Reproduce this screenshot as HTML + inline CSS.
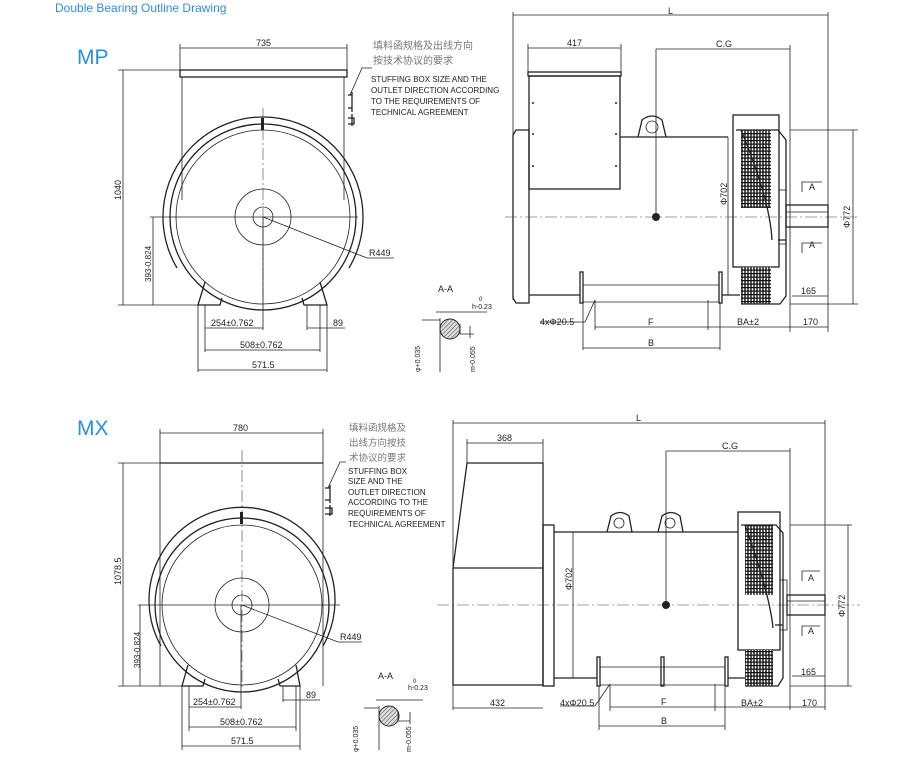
<!DOCTYPE html>
<html><head><meta charset="utf-8"><style>
body{margin:0;background:#fff}
svg{display:block}
text{font-family:"Liberation Sans","Noto Sans CJK SC",sans-serif;font-size:9px;fill:#222}
.t{fill:#2b8fd8}
.l{stroke:#222;stroke-width:0.8;fill:none}
.k{stroke:#222;stroke-width:1.3;fill:none}
.c{stroke:#444;stroke-width:0.6;fill:none;stroke-dasharray:12 3 2 3}
.g{fill:#777}
</style></head><body>
<svg width="901" height="777" viewBox="0 0 901 777" xmlns="http://www.w3.org/2000/svg">
<defs>
<pattern id="grid" width="3" height="3.5" patternUnits="userSpaceOnUse"><rect width="3" height="3.5" fill="#fff"/><path d="M0 0.5H3M1 0V3.5" stroke="#111" stroke-width="1.4"/></pattern>
<pattern id="hat" width="3" height="3" patternUnits="userSpaceOnUse" patternTransform="rotate(45)"><rect width="3" height="3" fill="#ddd"/><path d="M0 0V3" stroke="#222" stroke-width="0.8"/></pattern>
</defs>
<text x="55" y="12" class="t" style="font-size:12px">Double Bearing Outline Drawing</text>
<text x="77" y="64" class="t" style="font-size:21px">MP</text>
<text x="77" y="435" class="t" style="font-size:21px">MX</text>

<!-- ===== MP FRONT ===== -->
<g>
<path class="l" d="M180 44V70M347 44V70M180 48H347"/><text x="256" y="46">735</text>
<rect class="k" x="180" y="70" width="167" height="7"/>
<path class="l" d="M182 77V200M344 77V200"/>
<path class="l" d="M118 70H180M118 305H198M123 70V305M150 217H358M153 217V305"/>
<path class="c" d="M263 108V310"/>
<text transform="translate(121,200) rotate(-90)">1040</text>
<text transform="translate(151,282) rotate(-90)" style="font-size:8px">393-0.824</text>
<path class="k" d="M177 268A100 100 0 1 1 349 268"/>
<circle class="k" cx="263" cy="217" r="93"/>
<circle class="l" cx="263" cy="217" r="87"/>
<circle class="l" cx="263" cy="217" r="28"/>
<circle class="l" cx="263" cy="217" r="10"/>
<rect x="261" y="118" width="3" height="12" fill="#222"/>
<path class="l" d="M263 217L367 258H394"/><text x="369" y="256">R449</text>
<path class="k" d="M205 282L198 305H220L222 298M320 282L327 305H304L302 298"/>
<path class="l" d="M198 305V372M205 305V352M327 305V372M320 305V352M307 305V330"/>
<path class="l" d="M205 328H263M263 217V330M307 328H345M205 350H320M198 370H327"/>
<text x="211" y="326">254±0.762</text><text x="333" y="326">89</text>
<text x="240" y="348">508±0.762</text><text x="252" y="368">571.5</text>
<path class="k" d="M348 95H352V108H348M352 92V112M348 118H354V124H348M352 114V126"/>
<path class="l" d="M350 95L362 68H372"/>
<text x="373" y="49" class="g" style="font-size:10px">填料函规格及出线方向</text>
<text x="373" y="64" class="g" style="font-size:10px">按技术协议的要求</text>
<text x="371" y="82" style="font-size:8px">STUFFING BOX SIZE AND THE</text>
<text x="371" y="93" style="font-size:8px">OUTLET DIRECTION ACCORDING</text>
<text x="371" y="104" style="font-size:8px">TO THE REQUIREMENTS OF</text>
<text x="371" y="115" style="font-size:8px">TECHNICAL AGREEMENT</text>
<text x="438" y="292">A-A</text>
<circle cx="450" cy="329" r="10" fill="url(#hat)" stroke="#222"/>
<path class="l" d="M440 318V372M436 312H487M422 320H440M460 324V334H474M470 326V338"/>
<text x="472" y="309" style="font-size:7px">h-0.23</text><text x="479" y="301" style="font-size:6px">0</text>
<text transform="translate(420,372) rotate(-90)" style="font-size:7px">φ+0.035</text>
<text transform="translate(475,372) rotate(-90)" style="font-size:7px">m-0.055</text>
</g>

<!-- ===== MP SIDE ===== -->
<g>
<path class="l" d="M513 15H828M513 12V300M828 12V332"/><text x="668" y="14">L</text>
<path class="l" d="M528 44V72M621 44V72M528 48H621"/><text x="567" y="46">417</text>
<rect class="k" x="528" y="72" width="93" height="4"/>
<rect class="k" x="529" y="76" width="91" height="113"/>
<g fill="#222"><circle cx="533" cy="103" r="1"/><circle cx="533" cy="134" r="1"/><circle cx="533" cy="166" r="1"/><circle cx="616" cy="103" r="1"/><circle cx="616" cy="134" r="1"/><circle cx="616" cy="166" r="1"/></g>
<path class="k" d="M516 130H529V303H516L513 298V135Z"/>
<path class="k" d="M620 137H728M529 295H580M722 295H740"/>
<path class="l" d="M728 137V295"/>
<path class="k" d="M638 137L642 120Q652 112 662 120L666 137"/><circle class="l" cx="652" cy="127" r="6"/>
<path class="c" d="M505 217H860"/>
<path class="l" d="M656 49V217M656 49H790M790 45V332"/><text x="716" y="47">C.G</text>
<circle cx="656" cy="217" r="4" fill="#222"/>
<rect class="k" x="733" y="115" width="46" height="152"/>
<rect x="741" y="130" width="30" height="78" fill="url(#grid)"/>
<rect x="741" y="267" width="30" height="37" fill="url(#grid)"/>
<path class="k" d="M736 130H778L786 140V240H778M741 130Q770 200 772 240M741 304H780L786 296V240"/>
<rect class="l" x="779" y="190" width="7" height="54"/>
<rect class="k" x="786" y="205" width="42" height="22"/>
<path class="l" d="M786 212H828M790 130H858M790 304H858M853 130V304"/>
<text transform="translate(850,228) rotate(-90)">Φ772</text>
<text transform="translate(727,205) rotate(-90)">Φ702</text>
<path class="l" d="M802 192V182H822M802 253V243H822"/><text x="809" y="190">A</text><text x="809" y="248">A</text>
<rect class="k" x="580" y="272" width="3" height="31"/><rect class="k" x="719" y="272" width="3" height="31"/>
<path class="l" d="M583 285H719M583 302H719"/>
<path class="l" d="M595 300V330M708 300V330M583 303V350M720 303V350"/>
<path class="l" d="M595 327H708M708 327H790M790 327H828M583 348H720M792 296H828"/>
<path class="l" d="M595 300L585 322H540"/>
<text x="540" y="325">4xΦ20.5</text><text x="648" y="325">F</text><text x="737" y="325">BA±2</text><text x="803" y="325">170</text><text x="648" y="346">B</text><text x="801" y="294">165</text>
</g>

<!-- ===== MX FRONT ===== -->
<g>
<path class="l" d="M160 429V463M323 429V463M160 433H323"/><text x="233" y="431">780</text>
<path class="k" d="M160 463H323"/>
<path class="l" d="M160 463V686M323 463V686"/>
<path class="l" d="M118 463H160M118 686H185M123 463V686M138 605H340M140 605V686"/>
<path class="c" d="M242 450V690"/>
<text transform="translate(121,585) rotate(-90)">1078.5</text>
<text transform="translate(140,668) rotate(-90)" style="font-size:8px">393-0.824</text>
<path class="k" d="M161 646A93 93 0 1 1 323 646"/>
<circle class="k" cx="242" cy="605" r="87"/>
<circle class="l" cx="242" cy="605" r="80"/>
<circle class="l" cx="242" cy="605" r="27"/>
<circle class="l" cx="242" cy="605" r="10"/>
<rect x="240" y="512" width="3" height="12" fill="#222"/>
<path class="l" d="M242 605L338 642H362"/><text x="340" y="640">R449</text>
<path class="k" d="M188 665L182 686H203L205 679M296 665L300 686H280L278 679"/>
<path class="l" d="M182 686V750M189 686V731M300 686V750M296 686V731M283 686V702"/>
<path class="l" d="M189 707H241M241 605V709M283 700H320M189 727H296M182 746H300"/>
<text x="193" y="705">254±0.762</text><text x="306" y="698">89</text>
<text x="220" y="725">508±0.762</text><text x="231" y="744">571.5</text>
<path class="k" d="M325 488H330V500H325M330 485V503M325 508H332V514H325M330 505V516"/>
<path class="l" d="M328 488L340 462H346"/>
<text x="349" y="431" class="g" style="font-size:9.5px">填料函规格及</text>
<text x="349" y="446" class="g" style="font-size:9.5px">出线方向按技</text>
<text x="349" y="461" class="g" style="font-size:9.5px">术协议的要求</text>
<text x="348" y="474" style="font-size:8px">STUFFING BOX</text>
<text x="348" y="484" style="font-size:8px">SIZE AND THE</text>
<text x="348" y="495" style="font-size:8px">OUTLET DIRECTION</text>
<text x="348" y="505" style="font-size:8px">ACCORDING TO THE</text>
<text x="348" y="516" style="font-size:8px">REQUIREMENTS OF</text>
<text x="348" y="527" style="font-size:8px">TECHNICAL AGREEMENT</text>
<text x="378" y="679">A-A</text>
<circle cx="389" cy="716" r="10" fill="url(#hat)" stroke="#222"/>
<path class="l" d="M379 706V750M376 700H423M364 708H379M398 711V721H410M410 712V724"/>
<text x="408" y="690" style="font-size:7px">h-0.23</text><text x="413" y="683" style="font-size:6px">0</text>
<text transform="translate(358,752) rotate(-90)" style="font-size:7px">φ+0.035</text>
<text transform="translate(411,752) rotate(-90)" style="font-size:7px">m-0.055</text>
</g>

<!-- ===== MX SIDE ===== -->
<g>
<path class="l" d="M453 423H825M453 420V710M825 420V710"/><text x="636" y="421">L</text>
<path class="l" d="M467 439V463M543 439V463M467 443H543"/><text x="497" y="441">368</text>
<path class="k" d="M467 463H543V685H453V568ZM453 568H543"/>
<rect class="k" x="543" y="525" width="11" height="161"/>
<path class="k" d="M554 532H738M554 678H597M728 678H745"/>
<path class="l" d="M573 532V678"/>
<path class="k" d="M607 532L611 516Q620 509 629 516L632 532M658 532L662 516Q671 509 680 516L683 532"/>
<circle class="l" cx="619" cy="523" r="5"/><circle class="l" cx="670" cy="523" r="5"/>
<path class="c" d="M437 605H860"/>
<path class="l" d="M666 451V605M666 451H790M790 448V710"/><text x="722" y="449">C.G</text>
<circle cx="666" cy="605" r="4" fill="#222"/>
<rect class="k" x="738" y="512" width="42" height="138"/>
<rect x="745" y="525" width="28" height="70" fill="url(#grid)"/>
<rect x="745" y="650" width="28" height="36" fill="url(#grid)"/>
<path class="k" d="M741 525H776L783 533V625H775M745 525Q770 595 773 628M745 686H778L783 678V625"/>
<rect class="l" x="780" y="580" width="7" height="50"/>
<rect class="k" x="787" y="595" width="38" height="20"/>
<path class="l" d="M787 601H825M790 525H852M790 686H852M848 525V686"/>
<text transform="translate(845,617) rotate(-90)">Φ772</text>
<text transform="translate(572,590) rotate(-90)">Φ702</text>
<path class="l" d="M802 581V571H820M802 636V626H820"/><text x="808" y="581">A</text><text x="808" y="634">A</text>
<rect class="k" x="597" y="657" width="3" height="29"/><rect class="k" x="661" y="657" width="3" height="29"/><rect class="k" x="725" y="657" width="3" height="29"/>
<path class="l" d="M600 667H725M600 685H725"/>
<path class="l" d="M610 684V711M715 684V711M599 686V730M725 686V730"/>
<path class="l" d="M453 708H543M610 707H715M715 707H790M790 707H825M599 726H725M792 676H825"/>
<path class="l" d="M610 684L595 706H560"/>
<text x="490" y="706">432</text><text x="560" y="706">4xΦ20.5</text><text x="661" y="705">F</text><text x="741" y="706">BA±2</text><text x="802" y="706">170</text><text x="661" y="724">B</text><text x="801" y="675">165</text>
</g>
</svg>
</body></html>
